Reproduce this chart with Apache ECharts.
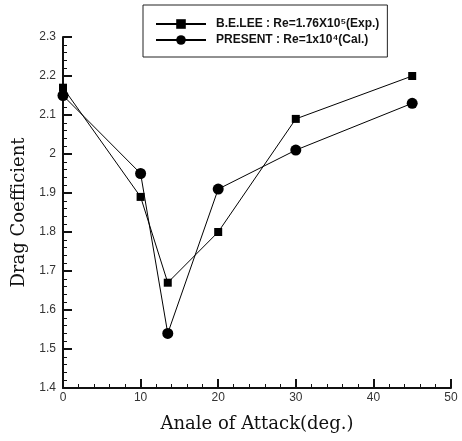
<!DOCTYPE html>
<html>
<head>
<meta charset="utf-8">
<script src="https://cdn.jsdelivr.net/npm/echarts@6/dist/echarts.min.js"></script>
<style>
  html, body { margin: 0; padding: 0; background: #fff; }
  #chart { width: 462px; height: 441px; }
</style>
</head>
<body>
<div id="chart"></div>
<script>
// angle of attack (deg.)
const leeAngles = [0, 10, 13.5, 20, 30, 45]
const leeDrag = [2.17, 1.89, 1.67, 1.80, 2.09, 2.20]
const presentAngles = [0, 10, 13.5, 20, 30, 45]
const presentDrag = [2.15, 1.95, 1.54, 1.91, 2.01, 2.13]
const seriesNames = ['B.E.LEE : Re=1.76X10\u2075(Exp.)', 'PRESENT : Re=1x10\u2074(Cal.)']

const pairs = (xs, ys) => xs.map((x, i) => [x, ys[i]])

const chart = echarts.init(document.getElementById('chart'))
chart.setOption({
  animation: false,
  grid: { left: 63, right: 11, top: 37, bottom: 53 },
  legend: {
    orient: 'vertical',
    left: 143,
    top: 5,
    padding: [13, 8, 11, 12],
    itemGap: 4,
    itemWidth: 50,
    itemHeight: 12,
    borderColor: '#222',
    borderWidth: 1,
    textStyle: {
      fontFamily: 'Liberation Sans', fontWeight: 'bold', fontSize: 12, color: '#111',
      padding: [0, 0, 0, 5]
    },
    data: seriesNames
  },
  xAxis: {
    type: 'value',
    min: 0,
    max: 50,
    interval: 10,
    name: 'Anale of Attack(deg.)',
    nameLocation: 'middle',
    nameGap: 27,
    nameTextStyle: { fontFamily: 'DejaVu Serif', fontSize: 18, color: '#111' },
    axisLine: { lineStyle: { color: '#111', width: 2 } },
    axisTick: { inside: true, length: 9, lineStyle: { color: '#111', width: 2 } },
    minorTick: { show: true, splitNumber: 5, length: 4, lineStyle: { color: '#111' } },
    axisLabel: { fontFamily: 'Liberation Sans', fontSize: 12, color: '#333', margin: 4 },
    splitLine: { show: false }
  },
  yAxis: {
    type: 'value',
    min: 1.4,
    max: 2.3,
    interval: 0.1,
    name: 'Drag Coefficient',
    nameLocation: 'middle',
    nameGap: 31,
    nameTextStyle: { fontFamily: 'DejaVu Serif', fontSize: 18, color: '#111' },
    axisLine: { lineStyle: { color: '#111', width: 2 } },
    axisTick: { inside: true, length: 9, lineStyle: { color: '#111', width: 2 } },
    minorTick: { show: true, splitNumber: 5, length: 4, lineStyle: { color: '#111' } },
    axisLabel: {
      fontFamily: 'Liberation Sans', fontSize: 12, color: '#333', margin: 7,
      formatter: v => (Math.round(v * 10) / 10).toString()
    },
    splitLine: { show: false }
  },
  series: [
    {
      name: seriesNames[0],
      type: 'line',
      data: pairs(leeAngles, leeDrag),
      symbol: 'rect',
      symbolSize: 8,
      itemStyle: { color: '#000' },
      lineStyle: { color: '#000', width: 1 }
    },
    {
      name: seriesNames[1],
      type: 'line',
      data: pairs(presentAngles, presentDrag),
      symbol: 'circle',
      symbolSize: 11,
      itemStyle: { color: '#000' },
      lineStyle: { color: '#000', width: 1 }
    }
  ]
})
</script>
</body>
</html>
